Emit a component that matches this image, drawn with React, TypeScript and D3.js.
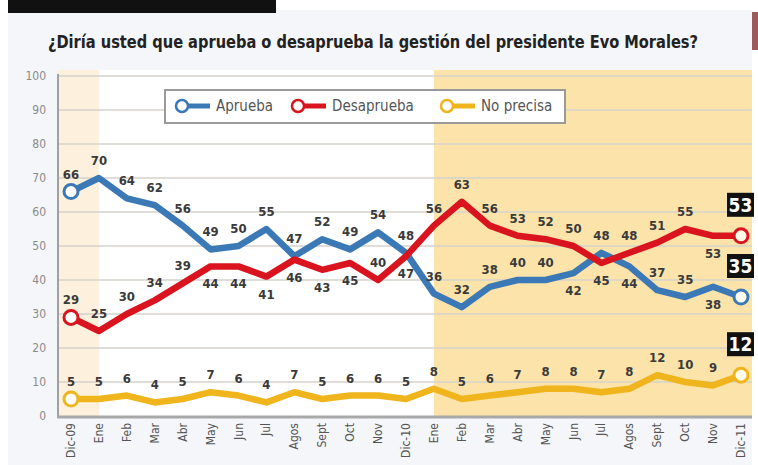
import * as d3 from "d3";

const months = ["Dic-09", "Ene", "Feb", "Mar", "Abr", "May", "Jun", "Jul", "Agos", "Sept", "Oct", "Nov", "Dic-10",
  "Ene", "Feb", "Mar", "Abr", "May", "Jun", "Jul", "Agos", "Sept", "Oct", "Nov", "Dic-11"];
const aprueba = [66, 70, 64, 62, 56, 49, 50, 55, 47, 52, 49, 54, 48, 36, 32, 38, 40, 40, 42, 48, 44, 37, 35, 38, 35];
const desaprueba = [29, 25, 30, 34, 39, 44, 44, 41, 46, 43, 45, 40, 47, 56, 63, 56, 53, 52, 50, 45, 48, 51, 55, 53, 53];
const noPrecisa = [5, 5, 6, 4, 5, 7, 6, 4, 7, 5, 6, 6, 5, 8, 5, 6, 7, 8, 8, 7, 8, 12, 10, 9, 12];
const yTicks = [0, 10, 20, 30, 40, 50, 60, 70, 80, 90, 100];
// indices where the value label sits under the line
const apruebaBelow = [18, 20, 23];
const desapruebaBelow = [5, 6, 7, 8, 9, 10, 12, 19, 23];

const W = 758, H = 465;
const COND = "'DejaVu Sans Condensed', 'Liberation Sans Narrow', sans-serif";

const series = [
  { name: "Aprueba", values: aprueba, color: "#3b79b6", below: apruebaBelow },
  { name: "Desaprueba", values: desaprueba, color: "#d9141e", below: desapruebaBelow },
  { name: "No precisa", values: noPrecisa, color: "#f0b51c", below: [] as number[] },
];

export default function App() {
  const idx = months.map((_, i) => i);
  const x = d3.scalePoint<number>().domain(idx).range([71, 741]);
  const y = d3.scaleLinear().domain([0, 100]).range([416, 76]);
  const line = d3.line<number>().x((_, i) => x(i)!).y(d => y(d));
  const last = months.length - 1;

  return (
    <svg width={W} height={H} style={{ position: "absolute", left: 0, top: 0 }}>
      <rect width={W} height={H} fill="#ffffff" />
      <rect x={8} y={10} width={744} height={H - 10} fill="#f4f6f9" />
      <rect x={8} y={0} width={268} height={13} fill="#111" />
      <rect x={752} y={12} width={6} height={38} fill="#9c5a5c" />

      <text x={48} y={48} fontFamily={COND} fontWeight="bold" fontSize={17} fill="#222"
        textLength={650} lengthAdjust="spacingAndGlyphs">
        ¿Diría usted que aprueba o desaprueba la gestión del presidente Evo Morales?
      </text>

      {/* plot background and period shading */}
      <rect x={58} y={70} width={694} height={346} fill="#ffffff" />
      <rect x={58} y={70} width={x(1)! - 58} height={346} fill="#fdf0dc" />
      <rect x={x(13)!} y={70} width={752 - x(13)!} height={346} fill="#fbe3a9" />

      {yTicks.map(t => (
        <g key={t}>
          {t > 0 && <line x1={58} x2={752} y1={y(t)} y2={y(t)} stroke="#d6d2cc" strokeWidth={1.5} />}
          <text x={46} y={y(t) + 4} textAnchor="end" fontFamily={COND} fontSize={12} fill="#8a8a8a">{t}</text>
        </g>
      ))}
      <line x1={58} x2={58} y1={74} y2={417} stroke="#a0a0a0" strokeWidth={2} />
      <line x1={57} x2={752} y1={417} y2={417} stroke="#a8a8a8" strokeWidth={3} />

      {months.map((m, i) => (
        <text key={i} transform={`translate(${x(i)! + 4},${423}) rotate(-90)`} textAnchor="end"
          fontFamily={COND} fontSize={12} fill="#555">{m}</text>
      ))}

      {series.map(s => (
        <g key={s.name}>
          <path d={line(s.values)!} fill="none" stroke={s.color} strokeWidth={6.5}
            strokeLinejoin="round" strokeLinecap="round" />
          <circle cx={x(0)} cy={y(s.values[0])} r={7} fill="#fff" stroke={s.color} strokeWidth={3} />
          <circle cx={x(last)} cy={y(s.values[last])} r={7} fill="#fffbea" stroke={s.color} strokeWidth={3} />
        </g>
      ))}

      {series.map(s => s.values.map((v, i) => i === last ? null : (
        <text key={s.name + i} x={x(i)} y={s.below.includes(i) ? y(v) + 22 : y(v) - 13}
          textAnchor="middle" fontFamily={COND} fontWeight="bold" fontSize={13} fill="#3a3a3a">{v}</text>
      )))}

      {series.map(s => {
        const v = s.values[last];
        const cy = y(v) - 31;
        return (
          <g key={"end" + s.name}>
            <rect x={x(last)! - 14} y={cy - 12} width={27} height={24} fill="#111" />
            <text x={x(last)! - 0.5} y={cy + 7} textAnchor="middle" fontFamily={COND} fontWeight="bold"
              fontSize={19} fill="#fff">{v}</text>
          </g>
        );
      })}

      {/* legend */}
      <rect x={165} y={90} width={400} height={33} fill="#fff" stroke="#9a9a9a" strokeWidth={2} />
      {series.map((s, k) => {
        const lx = [176, 292, 441][k];
        return (
          <g key={"lg" + s.name}>
            <line x1={lx + 6} x2={lx + 34} y1={106} y2={106} stroke={s.color} strokeWidth={5} />
            <circle cx={lx + 6} cy={106} r={6} fill="#fff" stroke={s.color} strokeWidth={2.5} />
            <text x={lx + 40} y={111} fontFamily={COND} fontSize={15} fill="#555">{s.name}</text>
          </g>
        );
      })}
    </svg>
  );
}
